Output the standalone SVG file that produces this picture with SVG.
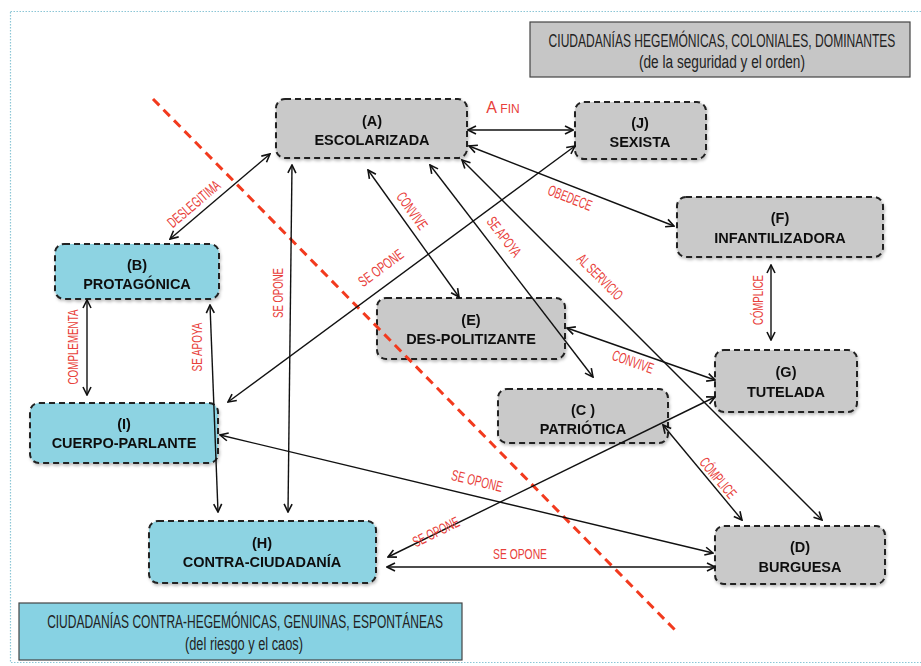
<svg xmlns="http://www.w3.org/2000/svg" width="921" height="666" viewBox="0 0 921 666">
<style>
.node rect{stroke:#222;stroke-width:2;stroke-dasharray:6 4;}
.gray rect{fill:#c9c9c9;}
.blue rect{fill:#8dd3e2;}
.nt{font-family:"Liberation Sans",Arial,sans-serif;font-weight:bold;font-size:14.5px;fill:#111;text-anchor:middle;}
.lbl{font-family:"Liberation Sans",Arial,sans-serif;font-size:15px;fill:#e8403a;text-anchor:middle;}
.hd{font-family:"Liberation Sans",Arial,sans-serif;font-size:18px;fill:#222;text-anchor:middle;}
.conn line{stroke:#111;stroke-width:1.4;marker-start:url(#ah);marker-end:url(#ah);}
</style>
<defs>
<marker id="ah" viewBox="0 0 10 10" refX="9" refY="5" markerWidth="10" markerHeight="10" markerUnits="userSpaceOnUse" orient="auto-start-reverse">
<path d="M1,1 L9,5 L1,9" fill="none" stroke="#111" stroke-width="1.6"/>
</marker>
<filter id="sh" x="-10%" y="-10%" width="130%" height="140%">
<feDropShadow dx="1" dy="2" stdDeviation="1.5" flood-color="#000" flood-opacity="0.25"/>
</filter>
</defs>
<rect x="0" y="0" width="921" height="666" fill="#fff"/>
<rect x="10.5" y="11.5" width="925" height="651" fill="none" stroke="#8cc6d6" stroke-width="1.2" stroke-dasharray="1.5 1.5"/>

<g id="legend-top">
<rect x="530" y="22" width="380" height="55" fill="#c6c6c6" stroke="#444" stroke-width="1.2"/>
<text class="hd" transform="translate(722 47) scale(0.68 1)" x="0" y="0" textLength="510" lengthAdjust="spacingAndGlyphs">CIUDADANÍAS HEGEMÓNICAS, COLONIALES, DOMINANTES</text>
<text class="hd" x="722" y="68" textLength="166" lengthAdjust="spacingAndGlyphs">(de la seguridad y el orden)</text>
</g>
<g id="legend-bottom">
<rect x="19" y="603" width="443" height="57" fill="#87d2e3" stroke="#444" stroke-width="1.2"/>
<text class="hd" transform="translate(245 628) scale(0.68 1)" x="0" y="0" textLength="582" lengthAdjust="spacingAndGlyphs">CIUDADANÍAS CONTRA-HEGEMÓNICAS, GENUINAS, ESPONTÁNEAS</text>
<text class="hd" x="244" y="650" textLength="118" lengthAdjust="spacingAndGlyphs">(del riesgo y el caos)</text>
</g>

<g id="node-A" class="node gray" filter="url(#sh)"><rect x="276" y="99" width="191" height="59" rx="9"/><text class="nt" x="372" y="126">(A)</text><text class="nt" x="372" y="145">ESCOLARIZADA</text></g>
<g id="node-J" class="node gray" filter="url(#sh)"><rect x="575" y="102" width="131" height="57" rx="9"/><text class="nt" x="640" y="128">(J)</text><text class="nt" x="640" y="147">SEXISTA</text></g>
<g id="node-F" class="node gray" filter="url(#sh)"><rect x="677" y="197" width="206" height="60" rx="9"/><text class="nt" x="780" y="223">(F)</text><text class="nt" x="780" y="243">INFANTILIZADORA</text></g>
<g id="node-B" class="node blue" filter="url(#sh)"><rect x="55" y="244" width="164" height="55" rx="9"/><text class="nt" x="137" y="270">(B)</text><text class="nt" x="137" y="289">PROTAGÓNICA</text></g>
<g id="node-E" class="node gray" filter="url(#sh)"><rect x="377" y="298" width="188" height="61" rx="9"/><text class="nt" x="471" y="325">(E)</text><text class="nt" x="471" y="344">DES-POLITIZANTE</text></g>
<g id="node-G" class="node gray" filter="url(#sh)"><rect x="715" y="350" width="142" height="62" rx="9"/><text class="nt" x="786" y="377">(G)</text><text class="nt" x="786" y="397">TUTELADA</text></g>
<g id="node-C" class="node gray" filter="url(#sh)"><rect x="498" y="389" width="170" height="54" rx="9"/><text class="nt" x="583" y="415">(C )</text><text class="nt" x="583" y="434">PATRIÓTICA</text></g>
<g id="node-I" class="node blue" filter="url(#sh)"><rect x="30" y="403" width="188" height="60" rx="9"/><text class="nt" x="124" y="429">(I)</text><text class="nt" x="124" y="448">CUERPO-PARLANTE</text></g>
<g id="node-H" class="node blue" filter="url(#sh)"><rect x="149" y="521" width="227" height="62" rx="9"/><text class="nt" x="262" y="548">(H)</text><text class="nt" x="262" y="567">CONTRA-CIUDADANÍA</text></g>
<g id="node-D" class="node gray" filter="url(#sh)"><rect x="715" y="526" width="170" height="58" rx="9"/><text class="nt" x="800" y="552">(D)</text><text class="nt" x="800" y="572">BURGUESA</text></g>

<line id="divider" x1="153" y1="99" x2="676" y2="631" stroke="#f23a1e" stroke-width="3" stroke-dasharray="9 6"/>

<g id="connectors" class="conn">
<line x1="468" y1="130" x2="573" y2="130"/>
<line x1="469" y1="146" x2="674" y2="226"/>
<line x1="368" y1="170" x2="459" y2="297"/>
<line x1="430" y1="165" x2="593" y2="377"/>
<line x1="462" y1="160" x2="822" y2="520"/>
<line x1="575" y1="146" x2="228" y2="402"/>
<line x1="170" y1="239" x2="270" y2="154"/>
<line x1="87" y1="300" x2="87" y2="395"/>
<line x1="210" y1="305" x2="218" y2="512"/>
<line x1="292" y1="165" x2="288" y2="512"/>
<line x1="567" y1="328" x2="715" y2="380"/>
<line x1="771" y1="265" x2="771" y2="340"/>
<line x1="715" y1="397" x2="388" y2="557"/>
<line x1="663" y1="425" x2="742" y2="520"/>
<line x1="220" y1="435" x2="713" y2="553"/>
<line x1="387" y1="567" x2="715" y2="567"/>
</g>

<g id="labels">
<text class="lbl" x="503" y="113" text-anchor="start"><tspan font-size="16">A</tspan><tspan font-size="12"> FIN</tspan></text>
<text class="lbl" x="570" y="203" transform="rotate(21.6 570 198)" textLength="46" lengthAdjust="spacingAndGlyphs">OBEDECE</text>
<text class="lbl" x="412" y="216" transform="rotate(54.4 412 211)" textLength="42" lengthAdjust="spacingAndGlyphs">CONVIVE</text>
<text class="lbl" x="504" y="242" transform="rotate(52.4 504 237)" textLength="46" lengthAdjust="spacingAndGlyphs">SE APOYA</text>
<text class="lbl" x="600" y="282" transform="rotate(45 600 277)" textLength="58" lengthAdjust="spacingAndGlyphs">AL SERVICIO</text>
<text class="lbl" x="381" y="273" transform="rotate(-36.4 381 268)" textLength="52" lengthAdjust="spacingAndGlyphs">SE OPONE</text>
<text class="lbl" x="194" y="209" transform="rotate(-40.4 194 204)" textLength="64" lengthAdjust="spacingAndGlyphs">DESLEGITIMA</text>
<text class="lbl" x="73" y="352" transform="rotate(-90 73 347)" textLength="75" lengthAdjust="spacingAndGlyphs">COMPLEMENTA</text>
<text class="lbl" x="197" y="352" transform="rotate(-90 197 347)" textLength="49" lengthAdjust="spacingAndGlyphs">SE APOYA</text>
<text class="lbl" x="278" y="298" transform="rotate(-90 278 293)" textLength="50" lengthAdjust="spacingAndGlyphs">SE OPONE</text>
<text class="lbl" x="633" y="367" transform="rotate(19.4 633 362)" textLength="43" lengthAdjust="spacingAndGlyphs">CONVIVE</text>
<text class="lbl" x="758" y="305" transform="rotate(-90 758 300)" textLength="50" lengthAdjust="spacingAndGlyphs">CÓMPLICE</text>
<text class="lbl" x="436" y="537" transform="rotate(-26 436 532)" textLength="50" lengthAdjust="spacingAndGlyphs">SE OPONE</text>
<text class="lbl" x="718" y="483" transform="rotate(50 718 478)" textLength="48" lengthAdjust="spacingAndGlyphs">CÓMPLICE</text>
<text class="lbl" x="477" y="486" transform="rotate(13.5 477 481)" textLength="52" lengthAdjust="spacingAndGlyphs">SE OPONE</text>
<text class="lbl" x="520" y="559" textLength="54" lengthAdjust="spacingAndGlyphs">SE OPONE</text>
</g>
</svg>
